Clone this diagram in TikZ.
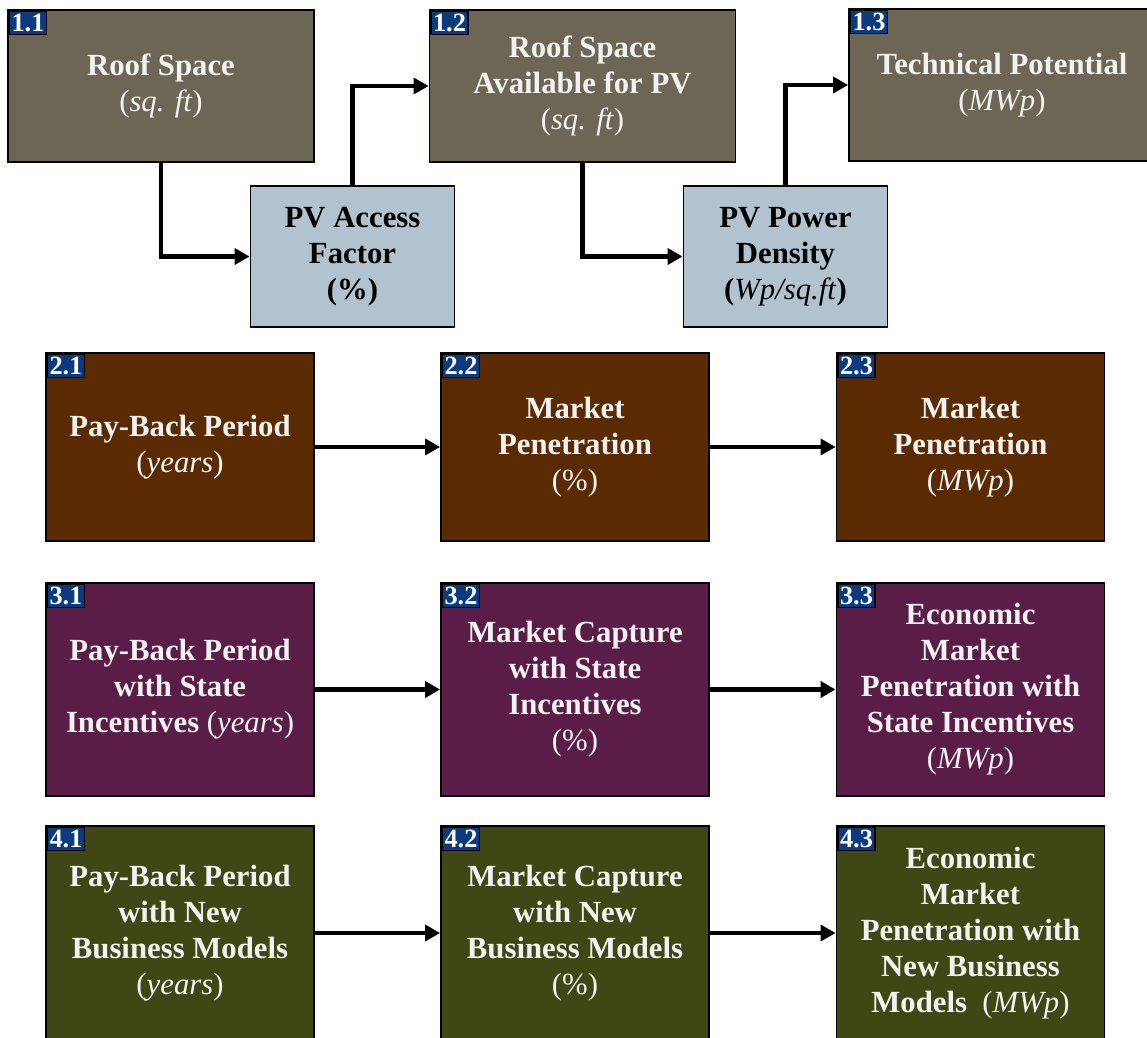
\documentclass[tikz,border=0pt]{standalone}
\usepackage{fontspec}
\setmainfont{Liberation Serif}
\usetikzlibrary{arrows.meta,positioning}

\definecolor{roofgrey}{HTML}{6E6655}
\definecolor{pvblue}{HTML}{B0C3CF}
\definecolor{paybrown}{HTML}{5A2A02}
\definecolor{statepurple}{HTML}{5A1D47}
\definecolor{bizolive}{HTML}{3F4714}
\definecolor{tagblue}{HTML}{0B3A7E}

\begin{document}
\begin{tikzpicture}[x=0.02cm,y=-0.02cm,
		box/.style={draw=black, line width=1pt, align=center, inner sep=0pt, text=white!95!black,
			font=\fontsize{17.5}{20.5}\selectfont\bfseries},
		factor/.style={box, fill=pvblue, text=black, minimum width=4.08cm, minimum height=2.82cm},
		big/.style={box, minimum width=6.12cm, minimum height=3.04cm},
		wide/.style={box, minimum width=5.36cm},
		tag/.style={draw=black, line width=0.7pt, fill=tagblue, text=white, anchor=north west,
			minimum width=0.74cm, minimum height=0.46cm, inner sep=0pt,
			font=\fontsize{15}{15}\selectfont\bfseries},
		flow/.style={line width=2.6pt, -{Triangle[length=8.5pt,width=9pt]}}
		]
	\clip (0,0) rectangle (1147,1038);
	\fill[white] (0,0) rectangle (1147,1038);

	% row 1: technical potential
	\node [big, fill=roofgrey] (r11) at (161,86) {Roof Space\\ \textnormal{(\textit{sq. ft})}};
	\node [big, fill=roofgrey] (r12) at (582.5,86) {Roof Space\\ Available for PV\\ \textnormal{(\textit{sq. ft})}};
	\node [big, fill=roofgrey] (r13) at (1002,85) {Technical Potential\\ \textnormal{(\textit{MWp})}};
	\node [factor] (acc) at (352.5,256.5) {PV Access\\ Factor\\ (\%)};
	\node [factor] (den) at (785.5,256.5) {PV Power\\ Density\\ (\textnormal{\textit{Wp/sq.ft}})};

	% row 2: market penetration
	\node [wide, fill=paybrown, minimum height=3.76cm] (r21) at (180,447) {Pay-Back Period\\ \textnormal{(\textit{years})}};
	\node [wide, fill=paybrown, minimum height=3.76cm] (r22) at (575,447) {Market\\ Penetration\\ \textnormal{(\%)}};
	\node [wide, fill=paybrown, minimum height=3.76cm] (r23) at (970.5,447) {Market\\ Penetration\\ \textnormal{(\textit{MWp})}};

	% row 3: state incentives
	\node [wide, fill=statepurple, minimum height=4.26cm] (r31) at (180,689.5) {Pay-Back Period\\ with State\\ Incentives \textnormal{(\textit{years})}};
	\node [wide, fill=statepurple, minimum height=4.26cm] (r32) at (575,689.5) {Market Capture\\ with State\\ Incentives\\ \textnormal{(\%)}};
	\node [wide, fill=statepurple, minimum height=4.26cm] (r33) at (970.5,689.5) {Economic\\ Market\\ Penetration with\\ State Incentives\\ \textnormal{(\textit{MWp})}};

	% row 4: new business models
	\node [wide, fill=bizolive, minimum height=4.28cm] (r41) at (180,933) {Pay-Back Period\\ with New\\ Business Models\\ \textnormal{(\textit{years})}};
	\node [wide, fill=bizolive, minimum height=4.28cm] (r42) at (575,933) {Market Capture\\ with New\\ Business Models\\ \textnormal{(\%)}};
	\node [wide, fill=bizolive, minimum height=4.28cm] (r43) at (970.5,933) {Economic\\ Market\\ Penetration with\\ New Business\\ Models\ \ \textnormal{(\textit{MWp})}};

	% number tags
	\foreach \b/\t in {r11/1.1,r12/1.2,r13/1.3,r21/2.1,r22/2.2,r23/2.3,r31/3.1,r32/3.2,r33/3.3,r41/4.1,r42/4.2,r43/4.3}
		\node [tag] (tag\b) at ([shift={(1pt,-1pt)}]\b.north west) {\t};

	% connectors
	\draw [flow] (r11.south) |- (acc.west);
	\draw [flow] (acc.north) |- (r12.west);
	\draw [flow] (r12.south) |- (den.west);
	\draw [flow] (den.north) |- (r13.west);
	\foreach \r in {2,3,4} {
		\draw [flow] (r\r1.east) -- (r\r2.west);
		\draw [flow] (r\r2.east) -- (r\r3.west);
	}
\end{tikzpicture}
\end{document}
